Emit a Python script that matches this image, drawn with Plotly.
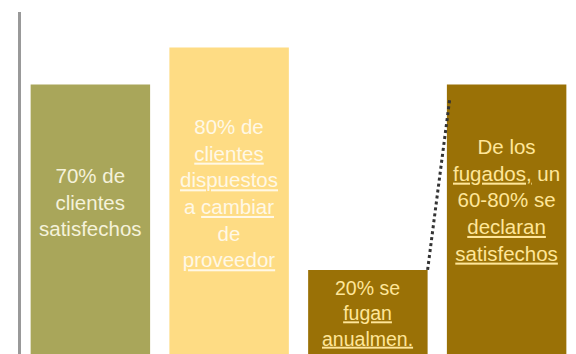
import plotly.graph_objects as go

# Bar data: categories, heights (percent) and the text shown inside each bar
categories = ["satisfechos", "dispuestos", "fugados", "fugados satisfechos"]
values = [70, 80, 20, 70]
labels = [
    "70% de<br>clientes<br>satisfechos",
    "80% de<br>{u}clientes{e}<br>{u}dispuestos{e}<br>a {u}cambiar{e}<br>de<br>{u}proveedor{e}",
    "20% se<br>{u}fugan{e}<br>{u}anualmen.{e}",
    "De los<br>{u}fugados,{e} un<br>60-80% se<br>{u}declaran{e}<br>{u}satisfechos{e}",
]

bar_colors = ["#A9A65A", "#FEDC84", "#9A7106", "#9A7106"]
text_colors = ["#F5F2DA", "#FFF8E6", "#FFE699", "#FFE699"]
squiggle = '<span style="text-decoration:underline">'

floor = -2.7          # bars rise from the bottom edge of the plot
top = 89.6

fig = go.Figure()
fig.add_trace(go.Bar(
    x=categories,
    y=[v - floor for v in values],
    base=floor,
    marker=dict(color=bar_colors, line=dict(width=0)),
    hoverinfo="skip",
))

# Text blocks inside the bars
shifts = [17, 8, -2, 19]
sizes = [20.5, 20.5, 19.5, 20.5]
for cat, v, lab, col, dy, fs in zip(categories, values, labels, text_colors, shifts, sizes):
    fig.add_annotation(
        x=cat, y=(floor + v) / 2, xref="x", yref="y",
        text=lab.format(u=squiggle, e="</span>"),
        showarrow=False, yshift=dy,
        font=dict(family="Liberation Sans, Arial, sans-serif", size=fs, color=col),
        align="center",
    )

# Dotted connector from the 20% bar to the last bar
half = (1 - 0.139) / 2
fig.add_shape(
    type="line", xref="x", yref="y",
    x0=2 + half, y0=values[2], x1=3 - half + 0.02, y1=values[3] - 4,
    line=dict(color="#333333", width=3, dash="dot"),
)

fig.update_layout(
    width=576, height=354,
    margin=dict(l=21, r=0, t=12, b=0),
    paper_bgcolor="white", plot_bgcolor="white",
    bargap=0.139,
    showlegend=False,
    xaxis=dict(showticklabels=False, showgrid=False, zeroline=False, ticks=""),
    yaxis=dict(range=[floor, top], showticklabels=False, showgrid=False,
               zeroline=False, ticks="", showline=True,
               linecolor="#999999", linewidth=3),
)

fig.write_html("out.html")
